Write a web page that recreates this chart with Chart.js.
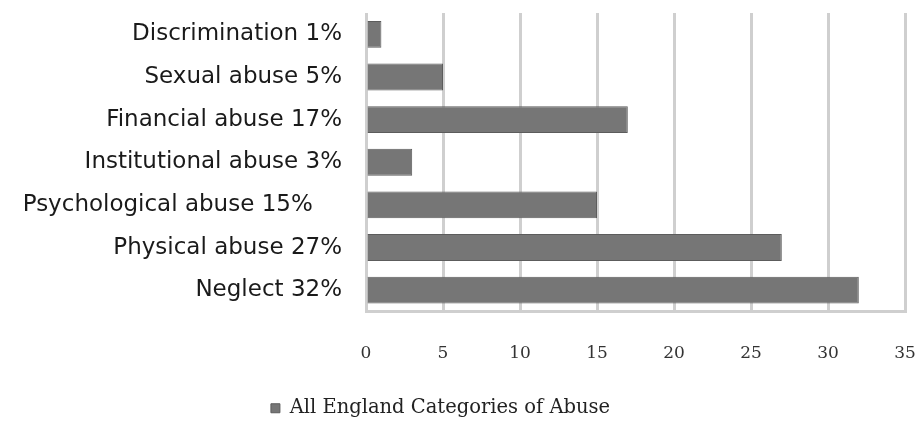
<!DOCTYPE html>
<html>
<head>
<meta charset="utf-8">
<script src="https://cdn.jsdelivr.net/npm/chart.js@4"></script>
<style>
  html, body { margin: 0; padding: 0; background: #fff; }
  #wrap { width: 920px; height: 422px; }
</style>
</head>
<body>
<div id="wrap"><canvas id="myChart" width="920" height="422"></canvas></div>
<script>
// data
const categories = [
    "Discrimination 1%",
    "Sexual abuse 5%",
    "Financial abuse 17%",
    "Institutional abuse 3%",
    "Psychological abuse 15%    ",
    "Physical abuse 27%",
    "Neglect 32%"
];
const values = [1, 5, 17, 3, 15, 27, 32];
const seriesName = "All England Categories of Abuse";
const xTicks = [0, 5, 10, 15, 20, 25, 30, 35];

// the scales' own edge padding would push the plot area in, drop it
function noEdgePadding(s) {
    s.paddingTop = 0;
    s.paddingBottom = 0;
    s.paddingLeft = 0;
    s.paddingRight = 0;
}

// legend in the original sits a bit left of centre and low
const legendShift = {
    id: "legendShift",
    afterLayout(chart) {
        chart.legend.left -= 12;
        chart.legend.right -= 12;
        chart.legend.top += 6;
        chart.legend.bottom += 6;
    }
};

const ctx = document.getElementById("myChart").getContext("2d");

new Chart(ctx, {
    type: "bar",
    data: {
        labels: categories,
        datasets: [{
            label: seriesName,
            data: values,
            backgroundColor: "#767676",
            borderColor: "#5c5c5c",
            borderWidth: 1,
            barPercentage: 0.63,
            categoryPercentage: 1
        }]
    },
    options: {
        indexAxis: "y",
        responsive: false,
        animation: false,
        layout: { padding: { top: 13, right: 15, bottom: 0, left: 0 } },
        scales: {
            x: {
                min: 0,
                max: 35,
                afterBuildTicks: s => { s.ticks = xTicks.map(v => ({ value: v })); },
                grid: { color: "#cfcfcf", lineWidth: 3, drawTicks: false },
                border: { color: "#cfcfcf", width: 3 },
                ticks: {
                    padding: 32,
                    color: "#333",
                    font: { family: "DejaVu Serif", size: 17 }
                },
                afterFit: s => { s.height = 73; noEdgePadding(s); }
            },
            y: {
                grid: { display: false, drawTicks: false },
                border: { display: false },
                ticks: {
                    padding: 24,
                    color: "#1a1a1a",
                    font: { family: "DejaVu Sans", size: 23 }
                },
                afterFit: s => { s.width = 366; noEdgePadding(s); }
            }
        },
        plugins: {
            legend: {
                position: "bottom",
                labels: {
                    boxWidth: 9,
                    boxHeight: 9,
                    padding: 8,
                    color: "#222",
                    font: { family: "DejaVu Serif", size: 19.5 }
                }
            },
            tooltip: { enabled: false }
        }
    },
    plugins: [legendShift]
});
</script>
</body>
</html>
